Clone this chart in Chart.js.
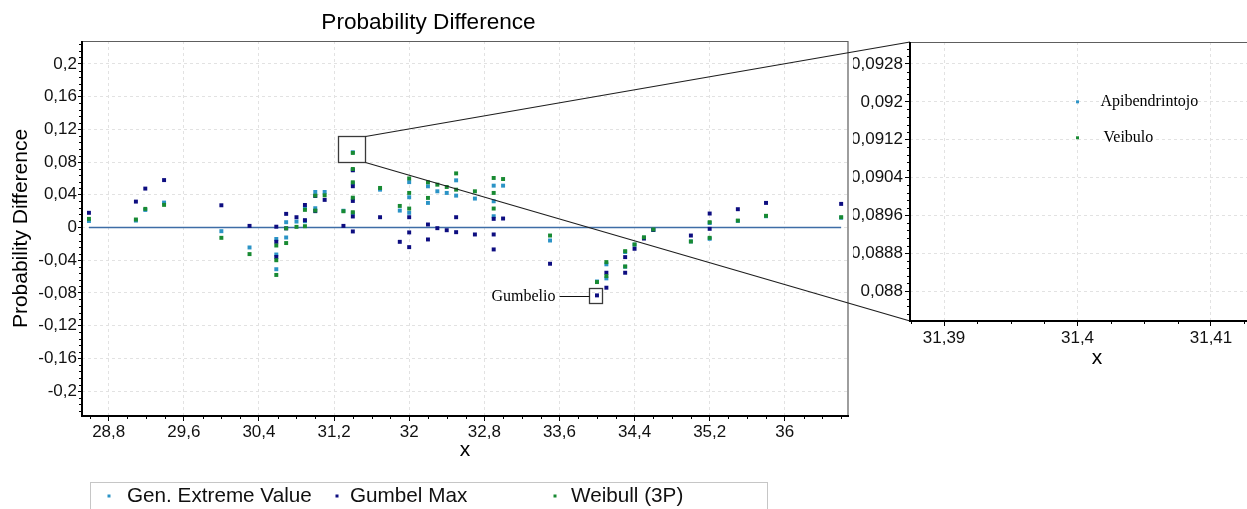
<!DOCTYPE html>
<html>
<head>
<meta charset="utf-8">
<script src="https://cdn.jsdelivr.net/npm/chart.js@4.4.1/dist/chart.umd.min.js"></script>
<style>
  html, body { margin: 0; padding: 0; background: #fff; }
  #wrap { position: relative; width: 1247px; height: 509px; overflow: hidden; background: #fff; }
  #main { position: absolute; left: 0; top: 0; }
  #insetClip { position: absolute; left: 853px; top: 0; width: 394px; height: 380px; overflow: hidden; }
  #inset { position: absolute; left: -2px; top: 0; }
</style>
</head>
<body>
<div id="wrap">
  <canvas id="main" width="1247" height="509"></canvas>
  <div id="insetClip"><canvas id="inset" width="440" height="380"></canvas></div>
</div>
<script>
// Sample values (tied observations repeated) and the empirical-minus-fitted CDF differences
const sampleX = [
  28.59, 29.09, 29.19, 29.39, 30.0, 30.3,
  30.585, 30.585, 30.585,
  30.69, 30.69,
  30.8,
  30.89, 30.89,
  31.0, 31.0,
  31.1, 31.3,
  31.4, 31.4, 31.4, 31.4, 31.4,
  31.69, 31.9,
  32.0, 32.0, 32.0,
  32.2, 32.2,
  32.3, 32.4,
  32.5, 32.5,
  32.7,
  32.9, 32.9, 32.9,
  33.0, 33.5, 34.0,
  34.1, 34.1,
  34.3, 34.3,
  34.4, 34.5, 34.6, 35.0,
  35.2, 35.2,
  35.5, 35.8, 36.6
];
const gevDiff = [
  0.008, 0.0085, 0.0215, 0.0305, -0.0045, -0.0244,
  -0.014, -0.033, -0.051,
  0.0065, -0.0122,
  0.0073,
  0.024, 0.0077,
  0.0435, 0.0236,
  0.0435, 0.0205,
  0.0920, 0.0705, 0.054, 0.0355, 0.0175,
  0.0463, 0.0207,
  0.0555, 0.037, 0.018,
  0.0504, 0.0301,
  0.0443, 0.0423,
  0.0577, 0.039,
  0.0354,
  0.0512, 0.0321, 0.0138,
  0.0512, -0.0159, -0.066,
  -0.045, -0.0622,
  -0.030, -0.048,
  -0.021, -0.0125, -0.003, -0.017,
  0.0055, -0.0138,
  0.008, 0.0138, 0.012
];
const gumbelDiff = [
  0.018, 0.0317, 0.0476, 0.058, 0.0272, 0.002,
  0.001, -0.0175, -0.036,
  0.0167, -0.001,
  0.0126,
  0.0276, 0.009,
  0.0385, 0.020,
  0.0338, 0.002,
  0.070, 0.0505, 0.0325, 0.0135, -0.0048,
  0.0126, -0.0175,
  0.0126, -0.006, -0.024,
  0.0037, -0.0146,
  -0.0008, -0.0033,
  0.0126, -0.0057,
  -0.0085,
  0.0106, -0.0085, -0.0268,
  0.011, -0.0443, -0.083,
  -0.0553, -0.0736,
  -0.0362, -0.0553,
  -0.026, -0.0135, -0.003, -0.0098,
  0.0171, -0.0016,
  0.0224, 0.0301, 0.0289
];
const weibullDiff = [
  0.0106, 0.0098, 0.0228, 0.0277, -0.0126, -0.0325,
  -0.022, -0.040, -0.058,
  -0.001, -0.019,
  0.0008,
  0.0216, 0.0016,
  0.039, 0.0207,
  0.0394, 0.0199,
  0.09124, 0.0716, 0.0553, 0.0365, 0.0187,
  0.0484, 0.0264,
  0.060, 0.0423, 0.0232,
  0.0553, 0.0362,
  0.0524, 0.0496,
  0.0662, 0.0463,
  0.0443,
  0.0606, 0.0423, 0.0232,
  0.0593, -0.0098, -0.0667,
  -0.0423, -0.0594,
  -0.0289, -0.0476,
  -0.0207, -0.012, -0.0024, -0.0171,
  0.0065, -0.0126,
  0.0085, 0.0143, 0.0126
];

const seriesNames = ['Gen. Extreme Value', 'Gumbel Max', 'Weibull (3P)'];
const seriesColors = ['#2b93c6', '#0d0d80', '#188a32'];
const seriesDiffs = [gevDiff, gumbelDiff, weibullDiff];

const xTickValues = [28.8, 29.6, 30.4, 31.2, 32, 32.8, 33.6, 34.4, 35.2, 36];
const yTickValues = [-0.2, -0.16, -0.12, -0.08, -0.04, 0, 0.04, 0.08, 0.12, 0.16, 0.2];
const insetXTickValues = [31.39, 31.4, 31.41];
const insetYTickValues = [0.088, 0.0888, 0.0896, 0.0904, 0.0912, 0.092, 0.0928];

const chartTitle = 'Probability Difference';
const yAxisTitle = 'Probability Difference';
const xAxisTitle = 'x';
const insetPointLabels = ['Apibendrintojo', null, 'Veibulo'];
const calloutLabel = 'Gumbelio';

const SANS = "'Liberation Sans', Arial, sans-serif";
const SERIF = "'Liberation Serif', 'Times New Roman', serif";
const fmt = v => String(+Number(v).toFixed(6)).replace('.', ',');

// the zoomed point (largest GEV difference) and the called-out Gumbel point (its minimum)
const zoomIndex = gevDiff.indexOf(Math.max(...gevDiff));
const calloutIndex = gumbelDiff.indexOf(Math.min(...gumbelDiff));

function pointsOf(i) {
  return sampleX.map((x, j) => ({ x: x, y: seriesDiffs[i][j] }));
}

function axisTicks(values) {
  return scale => { scale.ticks = values.map(v => ({ value: v })); };
}

function drawFrame(ctx, a, rightEdge) {
  ctx.save();
  ctx.strokeStyle = '#5e5e5e';
  ctx.lineWidth = 1.2;
  ctx.beginPath();
  ctx.moveTo(a.left, a.top + 0.5);
  ctx.lineTo(rightEdge, a.top + 0.5);
  if (rightEdge === a.right) ctx.lineTo(a.right, a.bottom);
  ctx.stroke();
  ctx.strokeStyle = '#000';
  ctx.lineWidth = 2;
  ctx.beginPath();
  ctx.moveTo(a.left, a.top);
  ctx.lineTo(a.left, a.bottom);
  ctx.lineTo(a.right + 1, a.bottom);
  ctx.stroke();
  ctx.restore();
}

function drawMinorTicks(ctx, chart, xStep, xEvery, yStep, yEvery, len) {
  const a = chart.chartArea, xs = chart.scales.x, ys = chart.scales.y;
  ctx.save();
  ctx.strokeStyle = '#000';
  ctx.lineWidth = 1;
  ctx.beginPath();
  for (let k = Math.ceil(ys.min / yStep); k <= Math.floor(ys.max / yStep); k++) {
    if (k % yEvery === 0) continue;
    const py = Math.round(ys.getPixelForValue(k * yStep)) + 0.5;
    ctx.moveTo(a.left - len, py);
    ctx.lineTo(a.left, py);
  }
  for (let k = Math.ceil(xs.min / xStep); k <= Math.floor(xs.max / xStep); k++) {
    if (k % xEvery === 0) continue;
    const px = Math.round(xs.getPixelForValue(k * xStep)) + 0.5;
    ctx.moveTo(px, a.bottom);
    ctx.lineTo(px, a.bottom + len);
  }
  ctx.stroke();
  ctx.restore();
}

function tickFont(size) { return { family: SANS, size: size }; }

/* ---------- inset: close-up around the zoomed point ---------- */
const INSET_PAGE_LEFT = 851;

const insetDecor = {
  id: 'insetDecor',
  afterDatasetsDraw(chart) {
    const ctx = chart.ctx, a = chart.chartArea;
    drawFrame(ctx, a, chart.width);
    drawMinorTicks(ctx, chart, 0.0025, 4, 0.00016, 5, 3);
    // series names next to their points
    ctx.save();
    ctx.font = '16px ' + SERIF;
    ctx.fillStyle = '#000';
    ctx.textBaseline = 'middle';
    chart.data.datasets.forEach((ds, di) => {
      const meta = chart.getDatasetMeta(di);
      const name = insetPointLabels[ds.seriesIndex];
      if (!name || !meta.data.length) return;
      const el = meta.data[0];
      ctx.fillText(name, el.x + (ds.seriesIndex === 0 ? 23 : 26), el.y);
    });
    ctx.restore();
  }
};

const insetXMin = 31.38745, insetXMax = 31.41547, insetYMin = 0.087366, insetYMax = 0.093265;
const inRange = p => p.x >= insetXMin && p.x <= insetXMax && p.y >= insetYMin && p.y <= insetYMax;

const insetChart = new Chart(document.getElementById('inset'), {
  type: 'scatter',
  data: {
    datasets: [0, 2].map(i => ({
      label: seriesNames[i],
      seriesIndex: i,
      data: pointsOf(i).filter(inRange),
      backgroundColor: seriesColors[i],
      borderColor: seriesColors[i],
      borderWidth: 0,
      pointStyle: 'rect',
      pointRadius: 2.1
    }))
  },
  options: {
    responsive: false,
    animation: false,
    events: [],
    layout: { padding: { left: 0, top: 42, right: 7, bottom: 0 } },
    plugins: { legend: { display: false }, tooltip: { enabled: false }, title: { display: false } },
    scales: {
      x: {
        type: 'linear', min: insetXMin, max: insetXMax,
        afterBuildTicks: axisTicks(insetXTickValues),
        afterFit: s => { s.height = 59; },
        ticks: { callback: v => fmt(v), font: tickFont(17), color: '#111', padding: 2, maxRotation: 0, autoSkip: false },
        grid: { color: '#e2e2e2', lineWidth: 1, tickColor: '#000', tickLength: 5, tickBorderDash: [] },
        border: { display: false, dash: [3, 3] },
        title: { display: true, text: xAxisTitle, font: { family: SANS, size: 21 }, color: '#000', padding: { top: 0, bottom: 9 } }
      },
      y: {
        type: 'linear', min: insetYMin, max: insetYMax,
        afterBuildTicks: axisTicks(insetYTickValues),
        afterFit: s => { s.width = 59; },
        ticks: { callback: v => fmt(v), font: tickFont(17), color: '#111', padding: 2, autoSkip: false },
        grid: { color: '#e2e2e2', lineWidth: 1, tickColor: '#000', tickLength: 5, tickBorderDash: [] },
        border: { display: false, dash: [3, 3] }
      }
    }
  },
  plugins: [insetDecor]
});

/* ---------- main chart ---------- */
const mainDecor = {
  id: 'mainDecor',
  beforeDraw(chart) {
    const ctx = chart.ctx;
    ctx.save();
    ctx.fillStyle = '#fff';
    ctx.fillRect(0, 0, chart.width, chart.height);
    ctx.restore();
  },
  afterDatasetsDraw(chart) {
    const ctx = chart.ctx, a = chart.chartArea, xs = chart.scales.x, ys = chart.scales.y;
    drawFrame(ctx, a, a.right);
    drawMinorTicks(ctx, chart, 0.2, 4, 0.008, 5, 3);

    ctx.save();
    // zoom box and its connectors to the inset plot corners
    const zx = xs.getPixelForValue(sampleX[zoomIndex]);
    const zy = ys.getPixelForValue(gevDiff[zoomIndex]);
    const bx0 = Math.round(zx - 15) + 0.5, bx1 = Math.round(zx + 12) + 0.5;
    const by0 = Math.round(zy - 16) + 0.5, by1 = Math.round(zy + 10) + 0.5;
    ctx.strokeStyle = '#3a3a3a';
    ctx.lineWidth = 1.3;
    ctx.strokeRect(bx0, by0, bx1 - bx0, by1 - by0);
    const ia = insetChart.chartArea;
    ctx.strokeStyle = '#1e1e1e';
    ctx.lineWidth = 1.2;
    ctx.beginPath();
    ctx.moveTo(bx1, by0);
    ctx.lineTo(INSET_PAGE_LEFT + ia.left, ia.top);
    ctx.moveTo(bx1, by1);
    ctx.lineTo(INSET_PAGE_LEFT + ia.left, ia.bottom);
    ctx.stroke();

    // callout on the lowest Gumbel point
    const cx = xs.getPixelForValue(sampleX[calloutIndex]);
    const cy = ys.getPixelForValue(gumbelDiff[calloutIndex]);
    const cx0 = Math.round(cx - 8) + 0.5, cx1 = Math.round(cx + 5) + 0.5;
    const cy0 = Math.round(cy - 7) + 0.5, cy1 = Math.round(cy + 8) + 0.5;
    ctx.strokeStyle = '#3a3a3a';
    ctx.lineWidth = 1.3;
    ctx.strokeRect(cx0, cy0, cx1 - cx0, cy1 - cy0);
    const lineY = Math.round((cy0 + cy1) / 2) + 0.5;
    ctx.strokeStyle = '#111';
    ctx.lineWidth = 1;
    ctx.beginPath();
    ctx.moveTo(cx0, lineY);
    ctx.lineTo(cx0 - 30, lineY);
    ctx.stroke();
    ctx.font = '16px ' + SERIF;
    ctx.fillStyle = '#000';
    ctx.textAlign = 'right';
    ctx.textBaseline = 'middle';
    ctx.fillText(calloutLabel, cx0 - 34, lineY);
    ctx.restore();
  },
  afterDraw(chart) {
    const ctx = chart.ctx;
    ctx.save();
    // chart title
    ctx.font = '22.6px ' + SANS;
    ctx.fillStyle = '#000';
    ctx.textAlign = 'center';
    ctx.textBaseline = 'alphabetic';
    ctx.fillText(chartTitle, 428.5, 28.5);

    // legend strip
    ctx.strokeStyle = '#c6c6c6';
    ctx.lineWidth = 1;
    ctx.strokeRect(90.5, 482.5, 677, 40);
    const markerX = [109, 337, 555];
    const textX = [127, 350, 571];
    ctx.font = '20.7px ' + SANS;
    ctx.textAlign = 'left';
    ctx.textBaseline = 'middle';
    seriesNames.forEach((name, i) => {
      ctx.fillStyle = seriesColors[i];
      ctx.fillRect(markerX[i] - 1.5, 494.5, 3, 3);
      ctx.fillStyle = '#111';
      ctx.fillText(name, textX[i], 496.5);
    });
    ctx.restore();
  }
};

new Chart(document.getElementById('main'), {
  type: 'scatter',
  data: {
    datasets: [
      {
        type: 'line',
        label: 'zero',
        data: [{ x: sampleX[0], y: 0 }, { x: sampleX[sampleX.length - 1], y: 0 }],
        borderColor: '#3d6da6',
        borderWidth: 1.4,
        pointRadius: 0,
        showLine: true,
        fill: false,
        order: 3
      },
      ...[0, 1, 2].map(i => ({
        label: seriesNames[i],
        data: pointsOf(i),
        backgroundColor: seriesColors[i],
        borderColor: seriesColors[i],
        borderWidth: 0,
        pointStyle: 'rect',
        pointRadius: 2.8,
        order: 2 - i
      }))
    ]
  },
  options: {
    responsive: false,
    animation: false,
    events: [],
    layout: { padding: { left: 0, top: 41, right: 399, bottom: 0 } },
    plugins: { legend: { display: false }, tooltip: { enabled: false }, title: { display: false } },
    scales: {
      x: {
        type: 'linear', min: 28.516, max: 36.673,
        afterBuildTicks: axisTicks(xTickValues),
        afterFit: s => { s.height = 93; },
        ticks: { callback: v => fmt(v), font: tickFont(17), color: '#111', padding: 1, maxRotation: 0, autoSkip: false },
        grid: { color: '#e2e2e2', lineWidth: 1, tickColor: '#000', tickLength: 5, tickBorderDash: [] },
        border: { display: false, dash: [3, 3] },
        title: { display: true, text: xAxisTitle, font: { family: SANS, size: 21 }, color: '#000', padding: { top: 0, bottom: 46 } }
      },
      y: {
        type: 'linear', min: -0.2305, max: 0.2281,
        afterBuildTicks: axisTicks(yTickValues),
        afterFit: s => { s.width = 82; },
        ticks: { callback: v => fmt(v), font: tickFont(17), color: '#111', padding: 1, autoSkip: false },
        grid: { color: '#e2e2e2', lineWidth: 1, tickColor: '#000', tickLength: 4, tickBorderDash: [] },
        border: { display: false, dash: [3, 3] },
        title: { display: true, text: yAxisTitle, font: { family: SANS, size: 21 }, color: '#000', padding: { top: 8.4, bottom: 0 } }
      }
    }
  },
  plugins: [mainDecor]
});
</script>
</body>
</html>
